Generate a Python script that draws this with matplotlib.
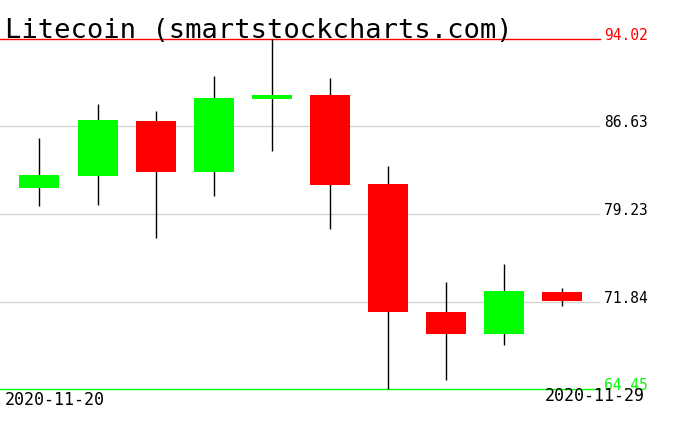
import matplotlib
matplotlib.use('Agg')
from matplotlib import pyplot as plt
import matplotlib.transforms as mtransforms

# daily OHLC
dates = ['2020-11-20', '2020-11-21', '2020-11-22', '2020-11-23', '2020-11-24',
         '2020-11-25', '2020-11-26', '2020-11-27', '2020-11-28', '2020-11-29']
opens = [81.46, 82.47, 87.09, 82.81, 88.98, 89.29, 81.77, 70.95, 69.10, 72.67]
highs = [85.66, 88.53, 87.94, 90.89, 94.02, 90.73, 83.29, 73.51, 75.04, 72.98]
lows = [79.94, 80.02, 77.23, 80.78, 84.58, 77.97, 64.45, 65.24, 68.19, 71.46]
closes = [82.53, 87.18, 82.81, 89.04, 89.29, 81.71, 70.98, 69.10, 72.75, 71.88]

price_levels = [94.02, 86.63, 79.23, 71.84, 64.45]

W, H = 676, 431

def main():
	fig = plt.figure(figsize=(W / 100, H / 100), dpi=100)
	ax = fig.add_axes([0, (H - 390) / H, 600 / W, 350 / H])
	ax.set_xlim(-39.5 / 58, -39.5 / 58 + 600 / 58)
	ax.set_ylim(min(price_levels), max(price_levels))
	ax.axis('off')

	for lvl in price_levels[1:-1]:
		ax.axhline(lvl, color='#d3d3d3', lw=1, zorder=1)
	ax.axhline(price_levels[0], color='#ff0000', lw=1, zorder=1, clip_on=False)
	ax.axhline(price_levels[-1], color='#00ff00', lw=1, zorder=1, clip_on=False)

	for i in range(len(dates)):
		o, h, l, c = opens[i], highs[i], lows[i], closes[i]
		col = '#00ff00' if c >= o else '#ff0000'
		ax.vlines(i, l, h, color='black', lw=1, zorder=2, clip_on=False)
		ax.bar(i, abs(c - o), bottom=min(o, c), width=40 / 58, color=col, zorder=3)

	trans = mtransforms.blended_transform_factory(ax.transAxes, ax.transData)
	for lvl in price_levels:
		if lvl == price_levels[0]:
			col = '#ff0000'
		elif lvl == price_levels[-1]:
			col = '#00ff00'
		else:
			col = 'black'
		ax.text(604 / 600, lvl, '%.2f' % lvl, transform=trans, color=col,
				fontsize=10.5, family='DejaVu Sans Mono', va='baseline', ha='left', clip_on=False)

	fig.text(5 / W, 1 - 38 / H, 'Litecoin (smartstockcharts.com)', fontsize=19.5,
			 family='DejaVu Sans Mono', va='baseline', ha='left')
	fig.text(5 / W, 1 - 405 / H, dates[0], fontsize=12, family='DejaVu Sans Mono',
			 va='baseline', ha='left')
	fig.text(645 / W, 1 - 401 / H, dates[-1], fontsize=12, family='DejaVu Sans Mono',
			 va='baseline', ha='right')

	fig.savefig('out.png', dpi=100)

if __name__ == '__main__':
	main()
